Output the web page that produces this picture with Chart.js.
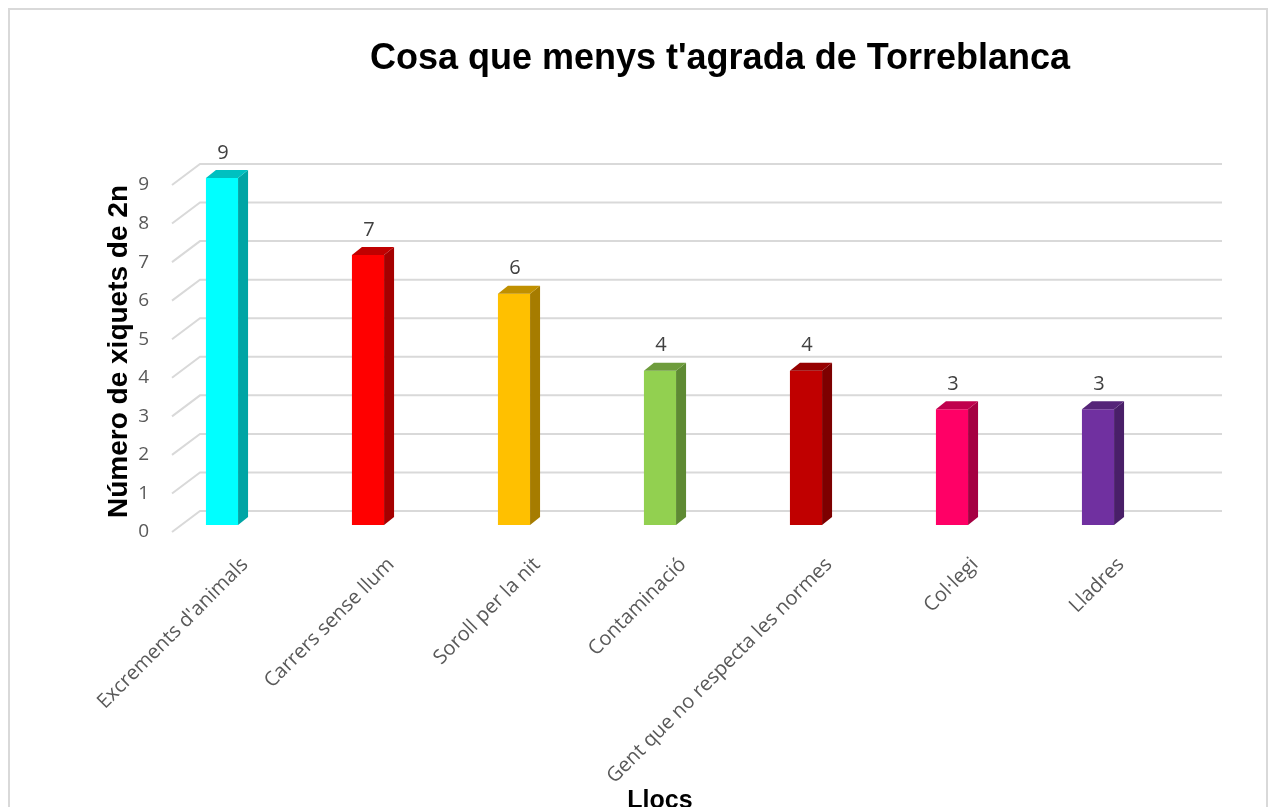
<!DOCTYPE html>
<html><head><meta charset="utf-8">
<script src="https://cdn.jsdelivr.net/npm/chart.js@4/dist/chart.umd.min.js"></script>
<style>html,body{margin:0;padding:0;background:#fff;overflow:hidden}#wrap{width:1276px;height:807px;position:relative}</style>
</head><body><div id="wrap"><canvas id="c" width="1276" height="807"></canvas></div>
<script>
const categories = ["Excrements d'animals","Carrers sense llum","Soroll per la nit","Contaminació","Gent que no respecta les normes","Col·legi","Lladres"];
const values = [9, 7, 6, 4, 4, 3, 3];
const yTicks = [0, 1, 2, 3, 4, 5, 6, 7, 8, 9];
const frontColors = ['#00FFFF','#FF0000','#FFC000','#92D050','#C00000','#FF0066','#7030A0'];
const sideColors  = ['#00A5A5','#A50000','#A67C00','#5E8A33','#7D0000','#A50042','#491F68'];
const topColors   = ['#00C0C0','#C00000','#C09000','#6E9C3C','#960000','#C0004D','#552478'];
const chartTitle = "Cosa que menys t'agrada de Torreblanca";
const yTitle = 'Número de xiquets de 2n';
const xTitle = 'Llocs';

const DEPTH = {dx: 10, dy: -8};
const GRID = {frontDx: 23, frontDy: 7, backDx: 51, backDy: -14};

const threeD = {
  id: 'threeD',
  beforeDraw(chart) {
    const ctx = chart.ctx;
    ctx.save();
    ctx.strokeStyle = '#D9D9D9';
    ctx.lineWidth = 2;
    ctx.strokeRect(9, 9, 1258, 830);
    ctx.restore();
  },
  beforeDatasetsDraw(chart) {
    const ctx = chart.ctx, ca = chart.chartArea, ys = chart.scales.y;
    ctx.save();
    ctx.strokeStyle = '#D9D9D9';
    ctx.lineWidth = 2;
    yTicks.forEach(v => {
      const yb = ys.getPixelForValue(v);
      ctx.beginPath();
      ctx.moveTo(ca.left + GRID.frontDx, yb + GRID.frontDy);
      ctx.lineTo(ca.left + GRID.backDx, yb + GRID.backDy);
      ctx.lineTo(ca.right + GRID.backDx, yb + GRID.backDy);
      ctx.stroke();
    });
    ctx.restore();
  },
  afterDatasetsDraw(chart) {
    const ctx = chart.ctx;
    const meta = chart.getDatasetMeta(0);
    ctx.save();
    meta.data.forEach((bar, i) => {
      const p = bar.getProps(['x','y','base','width'], true);
      const l = p.x - p.width / 2, r = p.x + p.width / 2;
      ctx.fillStyle = sideColors[i];
      ctx.beginPath();
      ctx.moveTo(r, p.y);
      ctx.lineTo(r + DEPTH.dx, p.y + DEPTH.dy);
      ctx.lineTo(r + DEPTH.dx, p.base + DEPTH.dy);
      ctx.lineTo(r, p.base);
      ctx.closePath();
      ctx.fill();
      ctx.fillStyle = topColors[i];
      ctx.beginPath();
      ctx.moveTo(l, p.y);
      ctx.lineTo(l + DEPTH.dx, p.y + DEPTH.dy);
      ctx.lineTo(r + DEPTH.dx, p.y + DEPTH.dy);
      ctx.lineTo(r, p.y);
      ctx.closePath();
      ctx.fill();
      ctx.fillStyle = '#404040';
      ctx.font = '20px "Open Sans"';
      ctx.textAlign = 'center';
      ctx.textBaseline = 'middle';
      ctx.fillText(String(values[i]), p.x + 1, p.y - 25);
    });
    ctx.restore();
  },
  afterDraw(chart) {
    const ctx = chart.ctx;
    ctx.save();
    ctx.fillStyle = '#000000';
    ctx.font = 'bold 36px "Liberation Sans", Arial, sans-serif';
    ctx.textAlign = 'center';
    ctx.textBaseline = 'alphabetic';
    ctx.fillText(chartTitle, 720, 69);
    ctx.restore();
  }
};

new Chart(document.getElementById('c'), {
  type: 'bar',
  data: {
    labels: categories,
    datasets: [{
      data: values,
      backgroundColor: frontColors,
      borderWidth: 0,
      barPercentage: 0.22,
      categoryPercentage: 1
    }]
  },
  options: {
    responsive: false,
    devicePixelRatio: 1,
    animation: false,
    layout: {padding: {top: 178, right: 105, bottom: 0, left: 0}},
    plugins: {legend: {display: false}, tooltip: {enabled: false}, title: {display: false}},
    scales: {
      x: {
        grid: {display: false, drawTicks: false},
        border: {display: false},
        ticks: {
          color: '#595959',
          font: {family: '"Open Sans"', size: 20},
          minRotation: 45, maxRotation: 45,
          autoSkip: false,
          padding: 28,
          labelOffset: 23
        },
        title: {
          display: true, text: xTitle, color: '#000000',
          font: {family: '"Liberation Sans", Arial, sans-serif', size: 25, weight: 'bold'},
          padding: {top: 0, bottom: -9}
        },
        afterFit(scale) { scale.height = 282; }
      },
      y: {
        min: 0, max: 9,
        grid: {display: false, drawTicks: false},
        border: {display: false},
        ticks: {
          stepSize: 1,
          color: '#595959',
          font: {family: '"Open Sans"', size: 19},
          padding: 0,
          labelOffset: 7
        },
        title: {
          display: true, text: yTitle, color: '#000000',
          font: {family: '"Liberation Sans", Arial, sans-serif', size: 28, weight: 'bold'},
          padding: {top: 102, bottom: 0}
        },
        afterFit(scale) { scale.width = 149; }
      }
    }
  },
  plugins: [threeD]
});
</script>
</body></html>
